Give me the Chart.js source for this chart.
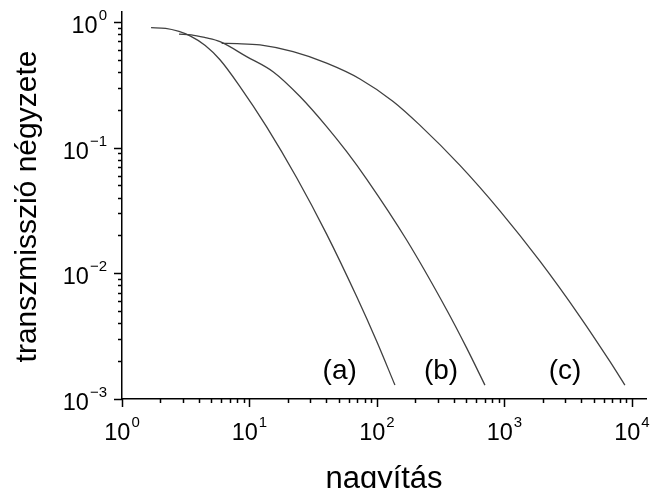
<!DOCTYPE html>
<html>
<head>
<meta charset="utf-8">
<script src="https://cdn.jsdelivr.net/npm/chart.js@4.4.1/dist/chart.umd.min.js"></script>
<style>
html,body{margin:0;padding:0;background:#fff;}
#wrap{width:653px;height:488px;position:relative;}
</style>
</head>
<body>
<div id="wrap"><canvas id="c" width="653" height="488"></canvas></div>
<script>
// ---- data ----
const curveAX = [1.69, 2.2, 2.8, 3.42, 4.5, 5.87, 8.42, 13.6, 23.4, 40.3, 69.3, 99.5, 138.4];
const curveAY = [0.90, 0.89, 0.84, 0.774, 0.65, 0.50, 0.306, 0.147, 0.0578, 0.0205, 0.00653, 0.00288, 0.00129];
const curveBX = [2.8, 3.5, 4.5, 5.87, 9.5, 15.4, 24.9, 40.3, 57.9, 83.0, 171, 352, 505, 703];
const curveBY = [0.80, 0.79, 0.75, 0.697, 0.53, 0.40, 0.255, 0.147, 0.0928, 0.0562, 0.0184, 0.00513, 0.00255, 0.00129];
const curveCX = [6.05, 8, 12.1, 22, 40.3, 73.6, 134, 217, 448, 922, 1899, 3910, 6720, 8810];
const curveCY = [0.675, 0.672, 0.656, 0.58, 0.47, 0.352, 0.233, 0.151, 0.0722, 0.0314, 0.01248, 0.00453, 0.00199, 0.00129];
const curveNames = ['(a)', '(b)', '(c)'];
const curveLabelX = [51, 318, 2985];
const curveLabelY = [0.00165, 0.00165, 0.00165];
const xExponents = [0, 1, 2, 3, 4];
const yExponents = [0, -1, -2, -3];
const xTitle = 'nagyítás';
const yTitle = 'transzmisszió négyzete';

const toPts = (xs, ys) => xs.map((x, i) => ({x: x, y: ys[i]}));

const FONT = '"Liberation Sans", Arial, sans-serif';

function drawPow(ctx, exp, x, y, align) {
  const base = '10', sup = String(exp).replace('-', '\u2212');
  ctx.font = '23.5px ' + FONT;
  const wb = ctx.measureText(base).width;
  ctx.font = '15px ' + FONT;
  const ws = ctx.measureText(sup).width;
  const total = wb + ws + 1;
  let left = align === 'right' ? x - total : x - total / 2;
  ctx.fillStyle = '#000';
  ctx.textAlign = 'left';
  ctx.textBaseline = 'alphabetic';
  ctx.font = '23.5px ' + FONT;
  ctx.fillText(base, left, y);
  ctx.font = '15px ' + FONT;
  ctx.fillText(sup, left + wb + 1, y - 13);
}

const axesPlugin = {
  id: 'axesPlugin',
  afterDraw(chart) {
    const ctx = chart.ctx;
    const xs = chart.scales.x, ys = chart.scales.y;
    const area = chart.chartArea;
    ctx.save();
    ctx.strokeStyle = '#000';
    ctx.lineWidth = 1.5;
    for (let k = 0; k <= 4; k++) {
      for (let m = 1; m <= 9; m++) {
        const v = m * Math.pow(10, k);
        if (v > xs.max) break;
        const px = Math.round(xs.getPixelForValue(v)) + 0.5;
        const len = m === 1 ? 8 : 4;
        ctx.beginPath();
        ctx.moveTo(px, area.bottom);
        ctx.lineTo(px, area.bottom + len);
        ctx.stroke();
      }
    }
    for (let k = -3; k <= 0; k++) {
      for (let m = 1; m <= 9; m++) {
        const v = m * Math.pow(10, k);
        if (v > ys.max) break;
        const py = Math.round(ys.getPixelForValue(v)) + 0.5;
        const len = m === 1 ? 8 : 4;
        ctx.beginPath();
        ctx.moveTo(area.left, py);
        ctx.lineTo(area.left - len, py);
        ctx.stroke();
      }
    }
    xExponents.forEach(e => {
      const px = xs.getPixelForValue(Math.pow(10, e));
      drawPow(ctx, e, px, area.bottom + 41, 'center');
    });
    yExponents.forEach(e => {
      const py = ys.getPixelForValue(Math.pow(10, e));
      drawPow(ctx, e, area.left - 15, py + 11, 'right');
    });
    ctx.fillStyle = '#000';
    ctx.textAlign = 'center';
    ctx.textBaseline = 'alphabetic';
    ctx.font = '31px ' + FONT;
    ctx.fillText(xTitle, (area.left + area.right) / 2, 488);
    ctx.save();
    ctx.font = '30px ' + FONT;
    ctx.translate(36, (area.top + area.bottom) / 2 + 1);
    ctx.rotate(-Math.PI / 2);
    ctx.fillText(yTitle, 0, 0);
    ctx.restore();
    ctx.font = '28px ' + FONT;
    ctx.textBaseline = 'middle';
    curveNames.forEach((n, i) => {
      ctx.fillText(n, xs.getPixelForValue(curveLabelX[i]), ys.getPixelForValue(curveLabelY[i]));
    });
    ctx.restore();
  }
};

const lineStyle = {
  borderColor: '#404040',
  borderWidth: 1.3,
  pointRadius: 0,
  fill: false,
  cubicInterpolationMode: 'monotone'
};

new Chart(document.getElementById('c'), {
  type: 'line',
  data: {
    datasets: [
      Object.assign({label: curveNames[0], data: toPts(curveAX, curveAY)}, lineStyle),
      Object.assign({label: curveNames[1], data: toPts(curveBX, curveBY)}, lineStyle),
      Object.assign({label: curveNames[2], data: toPts(curveCX, curveCY)}, lineStyle)
    ]
  },
  options: {
    responsive: false,
    animation: false,
    devicePixelRatio: 1,
    layout: {padding: {left: 0, right: 7, top: 12, bottom: 0}},
    plugins: {legend: {display: false}, tooltip: {enabled: false}},
    scales: {
      x: {
        type: 'logarithmic', min: 1, max: 12900,
        grid: {display: false, drawTicks: false},
        border: {display: true, color: '#000', width: 1.5},
        ticks: {display: false},
        afterFit(s) { s.height = 89; }
      },
      y: {
        type: 'logarithmic', min: 0.001, max: 1.2,
        grid: {display: false, drawTicks: false},
        border: {display: true, color: '#000', width: 1.5},
        ticks: {display: false},
        afterFit(s) { s.width = 122; }
      }
    }
  },
  plugins: [axesPlugin]
});
</script>
</body>
</html>
